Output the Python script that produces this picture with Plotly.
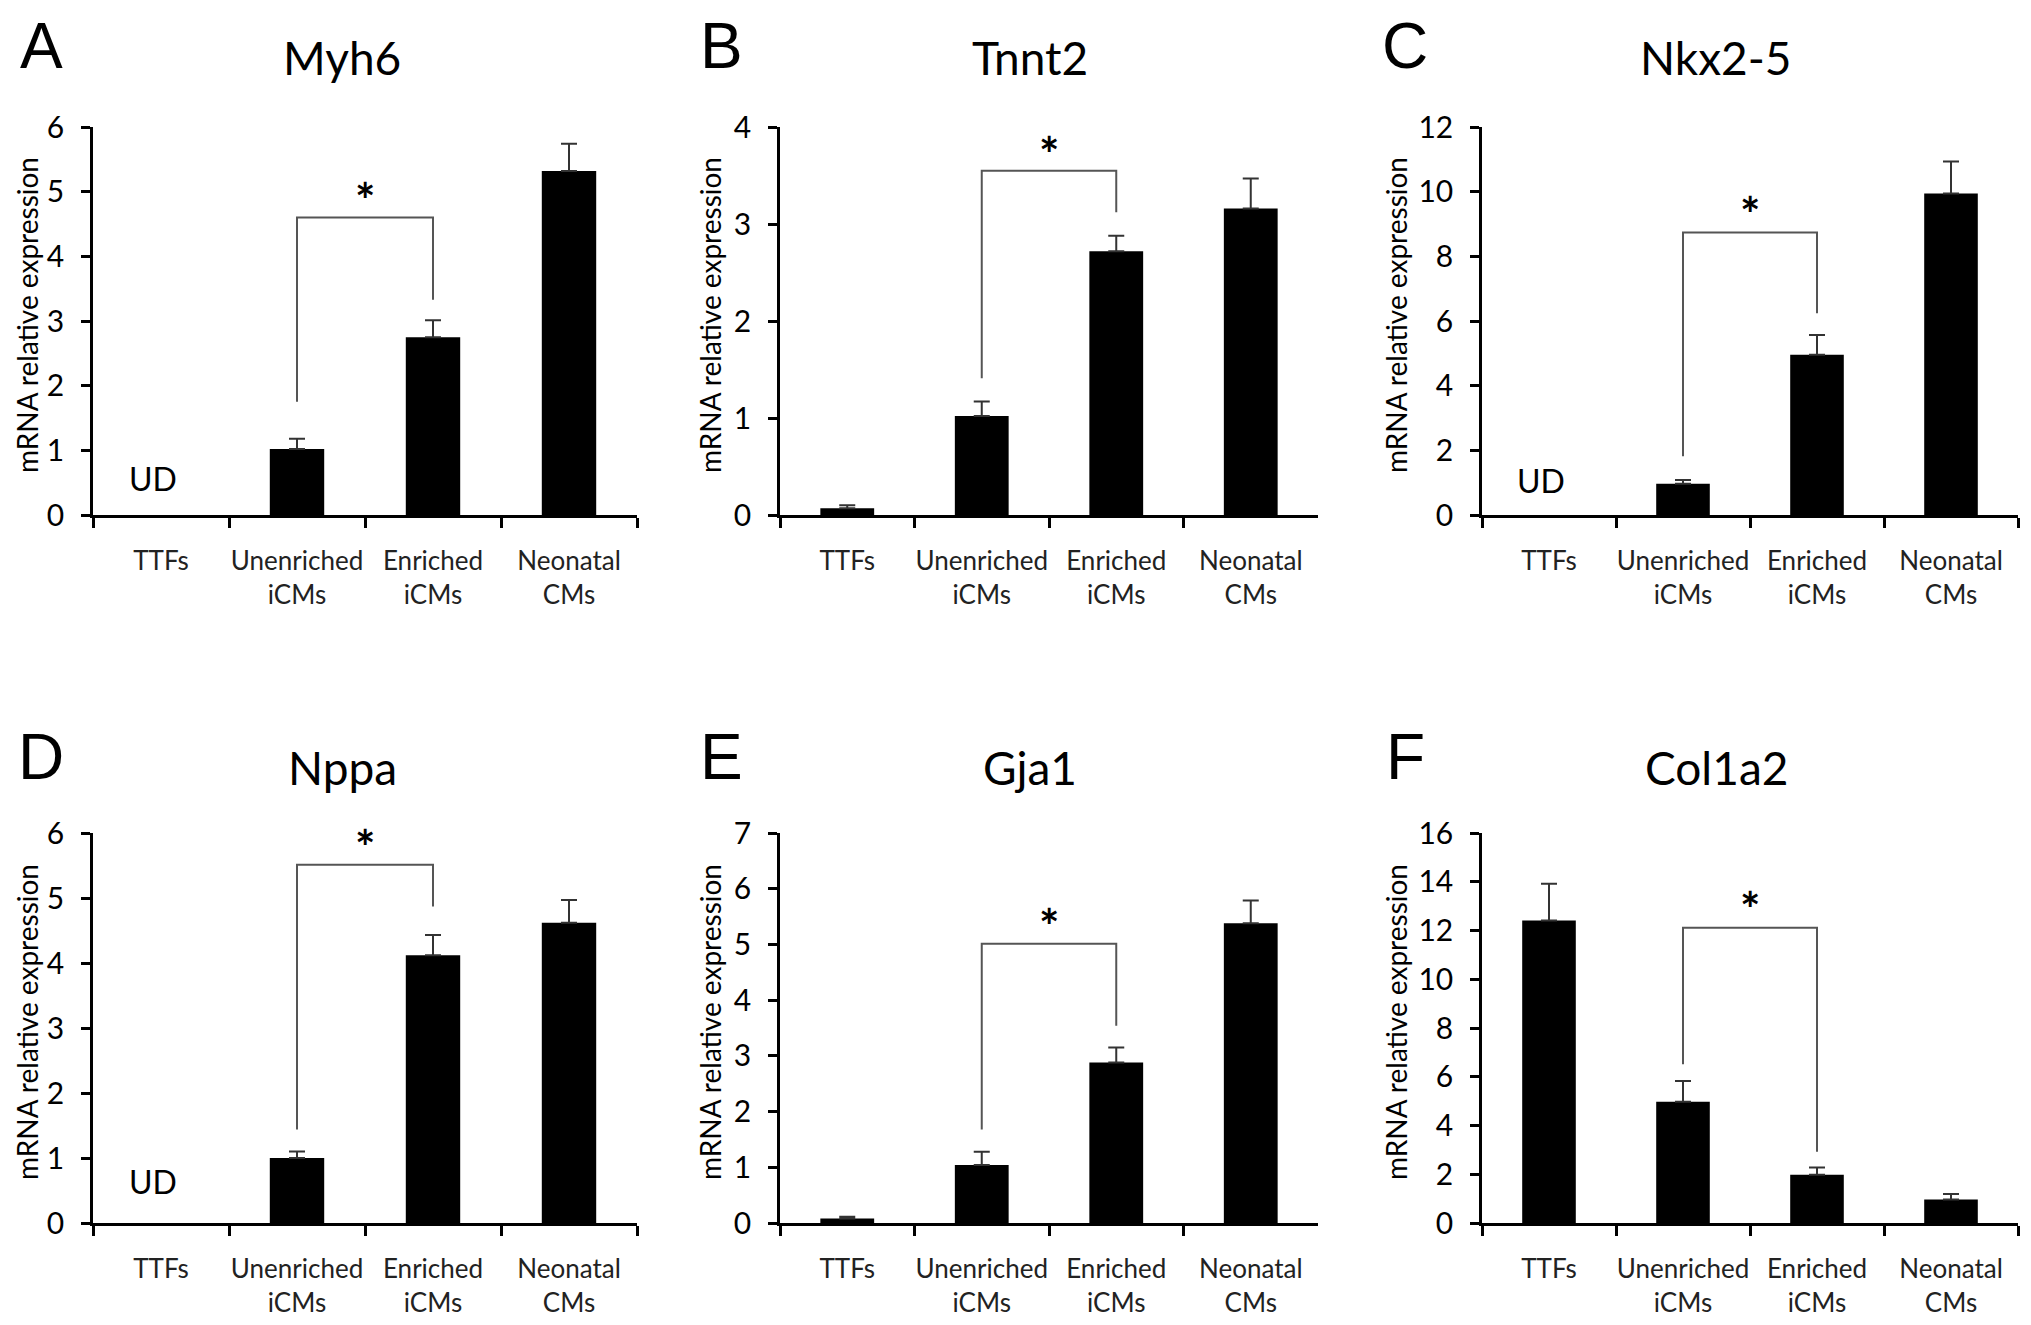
import plotly.graph_objects as go

W, H = 2031, 1325

# categories on every x axis
categories = ["TTFs", "Unenriched<br>iCMs", "Enriched<br>iCMs", "Neonatal<br>CMs"]
genes = ["Myh6", "Tnnt2", "Nkx2-5", "Nppa", "Gja1", "Col1a2"]
panel_letters = ["A", "B", "C", "D", "E", "F"]

# mean relative expression (None = UD, undetected)
myh6_mean = [None, 1.02, 2.75, 5.32]
tnnt2_mean = [0.07, 1.02, 2.72, 3.16]
nkx25_mean = [None, 0.97, 4.96, 9.94]
nppa_mean = [None, 1.00, 4.12, 4.62]
gja1_mean = [0.08, 1.04, 2.88, 5.38]
col1a2_mean = [12.41, 4.97, 1.98, 0.96]

# error (upper only)
myh6_err = [None, 0.16, 0.26, 0.42]
tnnt2_err = [0.03, 0.15, 0.16, 0.31]
nkx25_err = [None, 0.11, 0.61, 0.99]
nppa_err = [None, 0.10, 0.31, 0.35]
gja1_err = [0.03, 0.24, 0.27, 0.41]
col1a2_err = [1.51, 0.86, 0.30, 0.23]

# y axis top and tick step
y_max = [6, 4, 12, 6, 7, 16]
y_dtick = [1, 1, 2, 1, 1, 2]

# significance bracket Unenriched vs Enriched: top, left leg end, right leg end, star
bracket_top = [4.60, 3.55, 8.74, 5.51, 5.01, 12.11]
bracket_left = [1.75, 1.41, 1.82, 1.44, 1.68, 6.51]
bracket_right = [3.33, 3.12, 6.24, 4.87, 3.54, 2.92]
star_y = [4.94, 3.77, 9.46, 5.86, 5.42, 13.07]

# "UD" label height (None = no label)
ud_y = [0.57, None, 1.08, 0.64, None, None]

all_means = [myh6_mean, tnnt2_mean, nkx25_mean, nppa_mean, gja1_mean, col1a2_mean]
all_errs = [myh6_err, tnnt2_err, nkx25_err, nppa_err, gja1_err, col1a2_err]

# panel placement in pixels
col_px = [(85, 629), (772, 1310), (1474, 2010)]
row_px = [(119, 507), (825, 1215)]
title_x_px = [334, 1022, 1708]
title_y_px = [50, 759]
letter_x_px = [33, 713, 1397]
letter_y_px = [34, 746]
ytitle_x_px = [19, 702, 1388]

FONT = "Lato, 'Open Sans', Arial, sans-serif"
LETTER_SIZE = 64

fig = go.Figure()
layout = dict(
    width=W, height=H,
    margin=dict(l=0, r=0, t=0, b=0, autoexpand=False),
    paper_bgcolor="white", plot_bgcolor="white",
    showlegend=False,
    font=dict(family=FONT, color="black"),
)
annotations = []

for i in range(6):
    r, c = divmod(i, 3)
    n = "" if i == 0 else str(i + 1)
    x0, x1 = col_px[c]
    top, bottom = row_px[r]

    # bars with upper error bars
    fig.add_trace(go.Bar(
        x=categories, y=all_means[i],
        marker=dict(color="black", line=dict(width=0)),
        width=0.4,
        error_y=dict(type="data", array=all_errs[i], arrayminus=[0] * 4,
                     symmetric=False, color="#333333", thickness=2, width=8),
        xaxis="x" + n, yaxis="y" + n,
    ))

    # bracket
    fig.add_trace(go.Scatter(
        x=[categories[1], categories[1], categories[2], categories[2]],
        y=[bracket_left[i], bracket_top[i], bracket_top[i], bracket_right[i]],
        mode="lines", line=dict(color="#555555", width=2),
        xaxis="x" + n, yaxis="y" + n, hoverinfo="skip",
    ))

    layout["xaxis" + n] = dict(
        domain=[x0 / W, x1 / W], anchor="y" + n,
        type="category", range=[-0.5, 3.5],
        tickson="boundaries", ticks="outside", ticklen=10, tickwidth=2.5,
        tickcolor="black", showline=True, linewidth=2.5, linecolor="black",
        showgrid=False, zeroline=False, tickangle=0, automargin=False,
        tickfont=dict(family=FONT, size=26, color="#222222"),
        ticklabelstandoff=21, fixedrange=True,
    )
    layout["yaxis" + n] = dict(
        domain=[1 - bottom / H, 1 - top / H], anchor="x" + n,
        range=[0, y_max[i]], dtick=y_dtick[i],
        ticks="outside", ticklen=9, tickwidth=2.5, tickcolor="black",
        showline=True, linewidth=2.5, linecolor="black",
        showgrid=False, zeroline=False, automargin=False,
        tickfont=dict(family=FONT, size=30, color="black"),
        ticklabelstandoff=11,
    )

    # y axis title
    annotations.append(dict(
        x=ytitle_x_px[c] / W, y=1 - ((top + bottom) / 2 - 6) / H,
        xref="paper", yref="paper", text="mRNA relative expression",
        textangle=-90, showarrow=False,
        font=dict(family=FONT, size=28, color="black"),
        xanchor="center", yanchor="middle",
    ))
    annotations.append(dict(
        x=1.5, y=star_y[i], xref="x" + n, yref="y" + n, text="<b>*</b>",
        showarrow=False, font=dict(family=FONT, size=48, color="black"),
        yanchor="middle", yshift=-4,
    ))
    if ud_y[i] is not None:
        annotations.append(dict(
            x=-0.06, y=ud_y[i], xref="x" + n, yref="y" + n, text="UD",
            showarrow=False, font=dict(family=FONT, size=32, color="black"),
        ))
    annotations.append(dict(
        x=title_x_px[c] / W, y=1 - title_y_px[r] / H, xref="paper", yref="paper",
        text=genes[i], showarrow=False,
        font=dict(family=FONT, size=46, color="black"),
        xanchor="center", yanchor="middle",
    ))
    letter_top = max(0, letter_y_px[r] - 0.55 * LETTER_SIZE)
    annotations.append(dict(
        x=letter_x_px[c] / W, y=1 - letter_top / H, xref="paper", yref="paper",
        text=panel_letters[i], showarrow=False,
        font=dict(family="'Liberation Sans', Arial, sans-serif", size=LETTER_SIZE,
                  color="black"),
        xanchor="center", yanchor="top",
    ))

layout["annotations"] = annotations
fig.update_layout(**layout)

fig.write_html("out.html")
